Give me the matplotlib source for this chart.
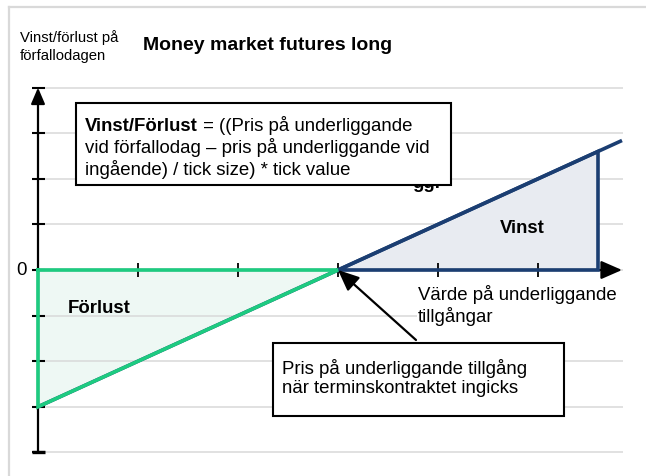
import matplotlib.pyplot as plt
from matplotlib.transforms import Affine2D
from matplotlib.patches import Rectangle
from matplotlib.lines import Line2D

plt.rcParams['font.family'] = ['Liberation Sans', 'DejaVu Sans']

# data (profit/loss in ticks vs. price of the underlying)
strike = 3
payoff_x = [0, 3, 5.84]
payoff_y = [-3, 0, 2.84]
loss_x = [0, 3, 0]
loss_y = [0, 0, -3]
gain_x = [3, 5.6, 5.6]
gain_y = [0, 0, 2.6]
grid_y = [-4, -3, -2, -1, 0, 1, 2, 3, 4]
x_ticks = [1, 2, 3, 4, 5]

W, H = 646, 477
fig = plt.figure(figsize=(W / 100, H / 100), dpi=100)
ax = fig.add_axes([0, 0, 1, 1])
ax.set_xlim(-0.38, 6.08)
ax.set_ylim((271 - 477) / 45.6, 271 / 45.6)
ax.axis('off')

# pixel transform (origin top-left) for layout items
px = Affine2D().scale(1 / 100).scale(1, -1).translate(0, H / 100) + fig.dpi_scale_trans

green = '#1DCB80'
blue = '#1B3E72'
grid_c = '#d9d9d9'

# outer frame
fig.add_artist(Line2D([9, 9], [8, H], transform=px, color=grid_c, lw=1.6))
fig.add_artist(Line2D([9, W], [8, 8], transform=px, color=grid_c, lw=1.6))

# gridlines
ax.hlines(grid_y, 0, 5.85, color=grid_c, lw=1.1, zorder=1)

# filled areas
ax.fill(loss_x, loss_y, facecolor='#eef8f4', edgecolor='none', zorder=0.5)
ax.fill(gain_x, gain_y, facecolor='#e8ebf1', edgecolor='none', zorder=1.5)

# axes with arrows
ax.annotate('', xy=(0, 4), xytext=(0, -4),
            arrowprops=dict(arrowstyle='-|>,head_length=0.7,head_width=0.3',
                            color='black', lw=1.6, mutation_scale=14,
                            shrinkA=0, shrinkB=0), zorder=3)
ax.annotate('', xy=(5.84, 0), xytext=(0, 0),
            arrowprops=dict(arrowstyle='-|>,head_length=0.8,head_width=0.35',
                            color='black', lw=1.6, mutation_scale=16,
                            shrinkA=0, shrinkB=0), zorder=3)
ax.hlines(grid_y, -0.06, 0.065, color='black', lw=1.5, zorder=3)
ax.hlines([-4], -0.06, 0.07, color='black', lw=2.4, zorder=3)
ax.vlines(x_ticks, -0.15, 0.15, color='black', lw=1.3, zorder=3)

# payoff lines
ax.plot(payoff_x, payoff_y, color=blue, lw=2.6, zorder=4, solid_capstyle='butt')
ax.plot(gain_x + [gain_x[0]], gain_y + [gain_y[0]], color=blue, lw=2.6, zorder=4,
        solid_joinstyle='miter')
ax.plot(loss_x + [loss_x[0]], loss_y + [loss_y[0]], color=green, lw=2.6, zorder=5,
        solid_joinstyle='miter')

fs = 13.4
fig.text(21.5, 275, '0', transform=px, fontsize=fs, ha='center', va='baseline')
fig.text(20, 60, 'Vinst/förlust på\nförfallodagen', transform=px, fontsize=10.7,
         va='baseline', linespacing=1.32)
fig.text(143, 50, 'Money market futures long', transform=px, fontsize=14,
         weight='bold', va='baseline')

# formula box
ax.add_patch(Rectangle((76, 186), 375, -82, transform=px, facecolor='white',
                       edgecolor='black', lw=1.5, zorder=7))
ax.text(412, 188.5, 'ggr', transform=px, fontsize=fs, weight='bold', zorder=6,
        va='baseline')
t1 = ax.text(85, 131, 'Vinst/Förlust', transform=px, fontsize=fs, weight='bold',
             va='baseline', zorder=8)
ax.annotate(' = ((Pris på underliggande', xy=(1, 0), xycoords=t1, fontsize=fs,
            va='bottom', zorder=8)
ax.text(85, 175, 'vid förfallodag – pris på underliggande vid\ningående) / tick size) * tick value',
        transform=px, fontsize=fs, va='baseline', linespacing=1.2, zorder=8)

# area labels
ax.text(522, 233, 'Vinst', transform=px, fontsize=fs, weight='bold', ha='center',
        va='baseline', zorder=8)
ax.text(68, 313, 'Förlust', transform=px, fontsize=fs, weight='bold',
        va='baseline', zorder=8)

# x-axis label
ax.add_patch(Rectangle((417, 281), 210, 48, transform=px, facecolor='white',
                       edgecolor='none', zorder=1.2))
ax.text(418, 322, 'Värde på underliggande\ntillgångar', transform=px, fontsize=fs,
        va='baseline', linespacing=1.2, zorder=8)

# strike annotation
ax.add_patch(Rectangle((273, 417), 291, -73, transform=px, facecolor='white',
                       edgecolor='black', lw=1.5, zorder=7))
ax.text(282, 393, 'Pris på underliggande tillgång\nnär terminskontraktet ingicks',
        transform=px, fontsize=fs, va='baseline', linespacing=1.15, zorder=8)
ax.annotate('', xy=(strike, 0), xytext=(416, 341), textcoords=px,
            arrowprops=dict(arrowstyle='-|>,head_length=0.8,head_width=0.35',
                            color='black', lw=1.6, mutation_scale=16,
                            shrinkA=0, shrinkB=0), zorder=9)

fig.savefig('out.png', dpi=100)
